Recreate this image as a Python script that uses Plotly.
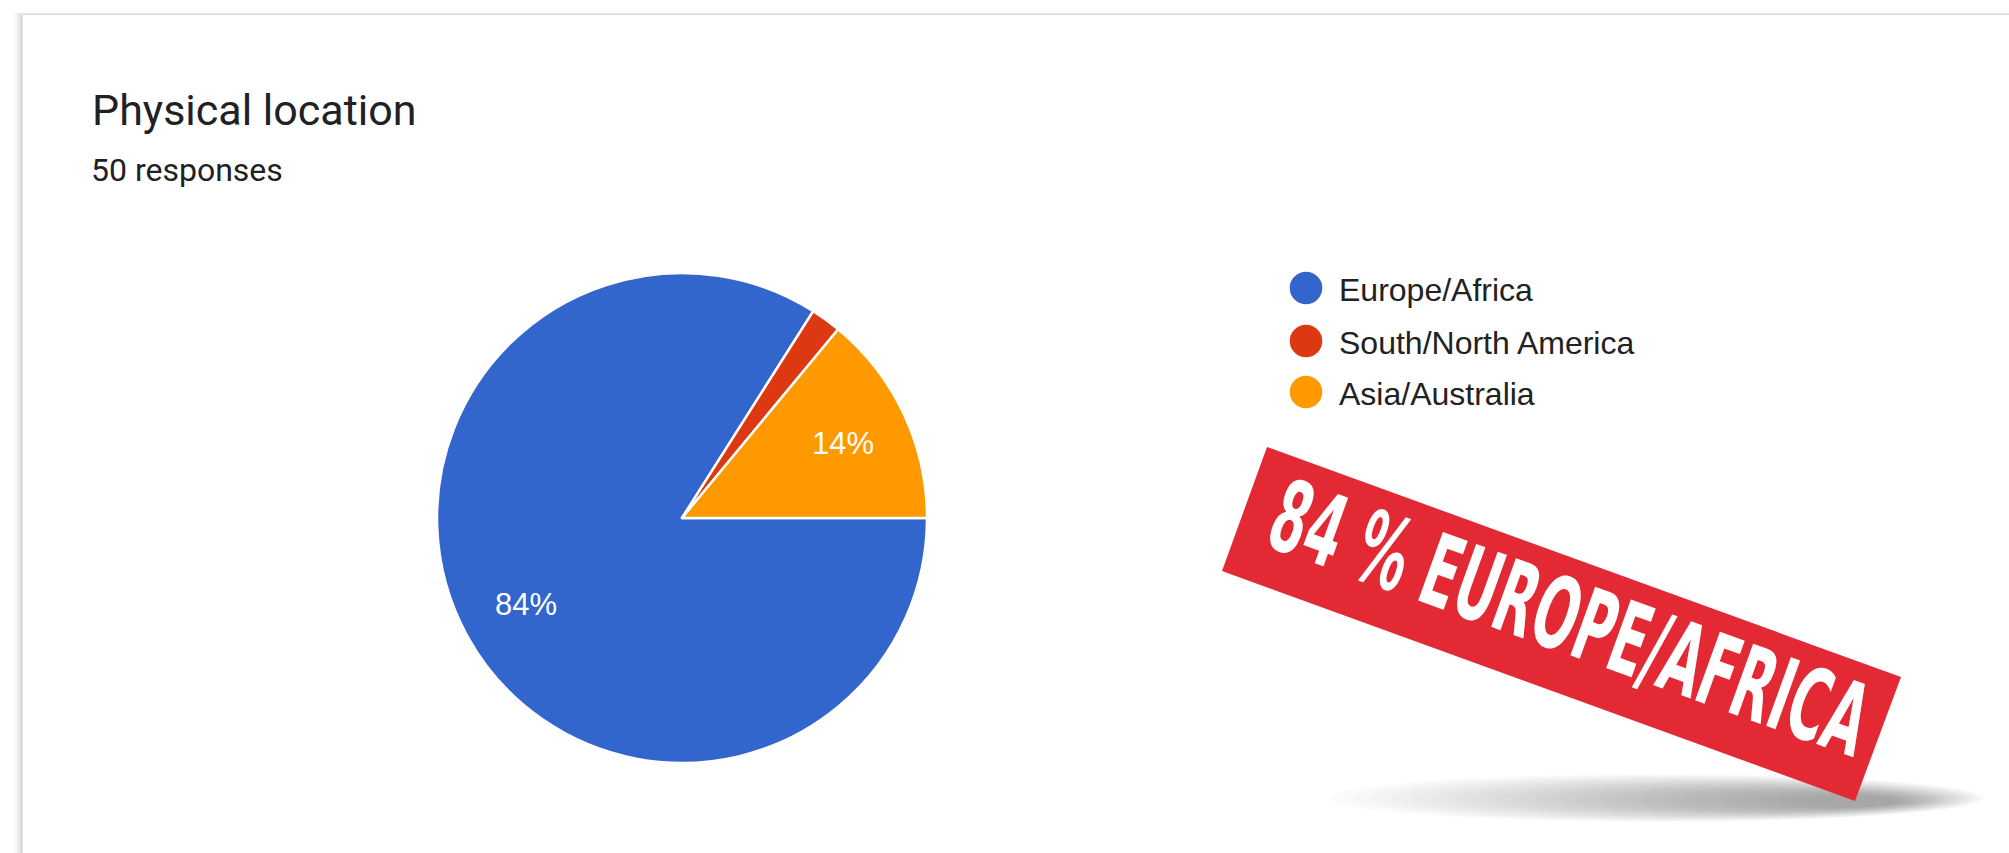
import math
import plotly.graph_objects as go

W, H = 2009, 853

# data
labels = ["Europe/Africa", "South/North America", "Asia/Australia"]
counts = [42, 1, 7]
colors = ["#3366cc", "#dc3912", "#ff9900"]

title = "Physical location"
subtitle = "50 responses"
banner_text = "84 % EUROPE/AFRICA"


def fx(x):
    return x / W


def fy(y):
    return 1 - y / H


# pie box in pixels
pie_x0, pie_x1, pie_y0, pie_y1 = 437, 927, 273, 763
cx, cy = (pie_x0 + pie_x1) / 2, (pie_y0 + pie_y1) / 2
rad = (pie_x1 - pie_x0) / 2

total = sum(counts)
pct = [c / total * 100 for c in counts]

fig = go.Figure(go.Pie(labels=labels,
                       values=counts,
                       textinfo="none",
                       sort=False,
                       direction="clockwise",
                       rotation=90,
                       marker=dict(colors=colors, line=dict(color="white", width=2.5)),
                       hoverinfo="label+percent",
                       showlegend=False,
                       domain=dict(x=[fx(pie_x0), fx(pie_x1)], y=[fy(pie_y1), fy(pie_y0)])))

shapes = []
annotations = []

# card shadow (left + top)
for i, a in enumerate([0.012, 0.02, 0.03, 0.04, 0.055]):
    d = 10 - 2 * i
    shapes.append(dict(type="rect", xref="paper", yref="paper",
                       x0=fx(22.7 - d), x1=fx(W + 30), y0=fy(H + 30), y1=fy(15 - d * 0.35),
                       fillcolor=f"rgba(0,0,0,{a})", line_width=0, layer="below"))
shapes.append(dict(type="rect", xref="paper", yref="paper",
                   x0=fx(22.7), x1=fx(W + 30), y0=fy(H + 30), y1=fy(15),
                   fillcolor="white", line_width=0, layer="below"))

# slice labels the google way: 0.725 r out along the slice mid-angle, small slices unlabeled
start = 0.0
for p in pct:
    mid = math.radians((start + p / 2) * 3.6)
    start += p
    if p < 5:
        continue
    annotations.append(dict(text=f"{p:.0f}%", xref="paper", yref="paper",
                            x=fx(cx + 0.725 * rad * math.cos(mid)),
                            y=fy(cy + 0.725 * rad * math.sin(mid) + 1),
                            xanchor="center", yanchor="middle", showarrow=False,
                            font=dict(family="Liberation Sans, Arial", size=31, color="white")))

# legend: circles + labels
leg_y = [288, 341, 392]
for lab, col, yy in zip(labels, colors, leg_y):
    shapes.append(dict(type="circle", xref="paper", yref="paper",
                       x0=fx(1306 - 16.3), x1=fx(1306 + 16.3), y0=fy(yy + 16.3), y1=fy(yy - 16.3),
                       fillcolor=col, line_width=0))
    annotations.append(dict(text=lab, x=fx(1337), y=fy(yy + 2), xref="paper", yref="paper",
                            xanchor="left", yanchor="middle", showarrow=False,
                            font=dict(family="Liberation Sans, Arial", size=32, color="#222222")))

# banner shadow: many faint stacked ellipses, thicker/darker to the right
n = 24
for k in range(n):
    t = k / (n - 1)
    x0 = 1330 + (1800 - 1330) * t
    x1 = 1985 + (1900 - 1985) * t
    y0 = 774 + (795 - 774) * t
    y1 = 822 + (807 - 822) * t
    shapes.append(dict(type="circle", xref="paper", yref="paper",
                       x0=fx(x0), x1=fx(x1), y0=fy(y1), y1=fy(y0),
                       fillcolor="rgba(0,0,0,0.014)", line_width=0))

# red banner (rotated rectangle)
corners = [(1267, 447), (1901, 677), (1855, 801), (1222, 571)]
path = "M " + " L ".join(f"{fx(x)},{fy(y)}" for x, y in corners) + " Z"
shapes.append(dict(type="path", path=path, xref="paper", yref="paper",
                   fillcolor="#e32934", line_width=0))

annotations.append(dict(text=banner_text, x=fx(1570), y=fy(618), xref="paper", yref="paper",
                        xanchor="center", yanchor="middle", showarrow=False, textangle=19.8,
                        font=dict(family="Liberation Sans Narrow, DejaVu Sans Condensed, Liberation Sans",
                                  size=100, color="white", weight="bold")))

annotations.append(dict(text=title, x=fx(90), y=fy(110), xref="paper", yref="paper",
                        xanchor="left", yanchor="middle", showarrow=False,
                        font=dict(family="Roboto", size=43, color="#202124")))
annotations.append(dict(text=subtitle, x=fx(89), y=fy(170), xref="paper", yref="paper",
                        xanchor="left", yanchor="middle", showarrow=False,
                        font=dict(family="Roboto", size=32, color="#202124")))

fig.update_layout(width=W, height=H,
                  margin=dict(l=0, r=0, t=0, b=0),
                  paper_bgcolor="white",
                  plot_bgcolor="white",
                  shapes=shapes,
                  annotations=annotations)

# drop the page margin, and squeeze the banner text into a condensed face like the sticker
post = """
document.body.style.margin = '0';
var gd = document.getElementById('{plot_id}');
gd.querySelectorAll('text.annotation-text').forEach(function(t){
  if (t.textContent.indexOf('EUROPE') < 0) return;
  var w = t.getBBox().width;
  t.style.transformBox = 'fill-box';
  t.style.transformOrigin = 'center';
  t.style.transform = 'scaleX(' + (628 / w) + ')';
});
"""

fig.write_html("out.html", post_script=post, config={"displayModeBar": False})
